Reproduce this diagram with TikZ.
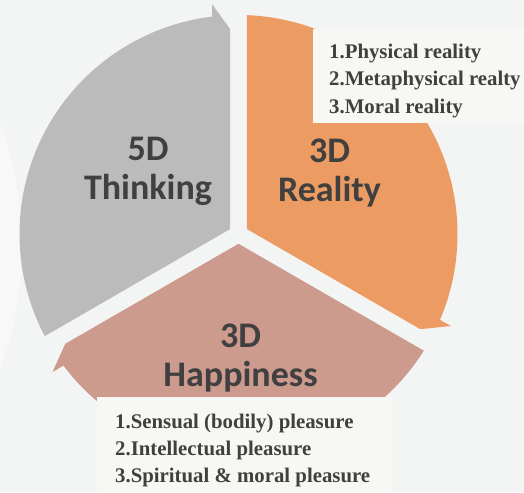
\documentclass[tikz,border=0pt]{standalone}
\usepackage{fontspec}
\setmainfont{Liberation Serif}
\newfontfamily\labelfont{Carlito}
\definecolor{bgc}{HTML}{F3F4F4}
\definecolor{boxc}{HTML}{F7F7F3}
\definecolor{grayc}{HTML}{BBBBBB}
\definecolor{orangec}{HTML}{EC9C63}
\definecolor{pinkc}{HTML}{CD9A8E}
\definecolor{txt}{HTML}{404040}
\newcommand\drawsegment[2]{%
  \begin{scope}[shift={(238.5,258)}, rotate=#1]
    \fill[#2] (150:9.8) -- (207.8:219)
      arc[start angle=207.8, end angle=96.95, radius=219]
      -- (96.57:231.5) -- (92.37:205.2) -- cycle;
  \end{scope}}
\begin{document}
\begin{tikzpicture}[x=1pt,y=1pt,
  listtext/.style={inner sep=0pt, align=left, anchor=north west, text=txt,
    font=\bfseries\fontsize{20.8}{27.2}\selectfont},
  bigtext/.style={inner sep=0pt, align=center, anchor=north, text=txt,
    font=\labelfont\bfseries\fontsize{36}{39}\selectfont},
  textbox/.style={fill=boxc, draw=none}]
\useasboundingbox (0,0) rectangle (524,492);
\fill[bgc] (0,0) rectangle (524,492);
% faint lighter band on the left
\fill[white, opacity=0.45] (-330,246) circle[radius=352];
% segments
\drawsegment{0}{grayc}
\drawsegment{-120}{orangec}
\drawsegment{120}{pinkc}
% text boxes
\fill[textbox] (313,369) rectangle (524,463);
\fill[textbox] (97,0) rectangle (392,94.5);
% labels
\node[bigtext] (thinking) at (148,355) {5D\\Thinking};
\node[bigtext] (reality) at (329.5,353.5) {3D\\Reality};
\node[bigtext] (happiness) at (240.5,168) {3D\\Happiness};
\node[listtext] (reallist) at (329,448) {1.Physical reality\\2.Metaphysical realty\\3.Moral reality};
\node[listtext] (happylist) at (115,78.6) {1.Sensual (bodily) pleasure\\2.Intellectual pleasure\\3.Spiritual \& moral pleasure};
\end{tikzpicture}
\end{document}
